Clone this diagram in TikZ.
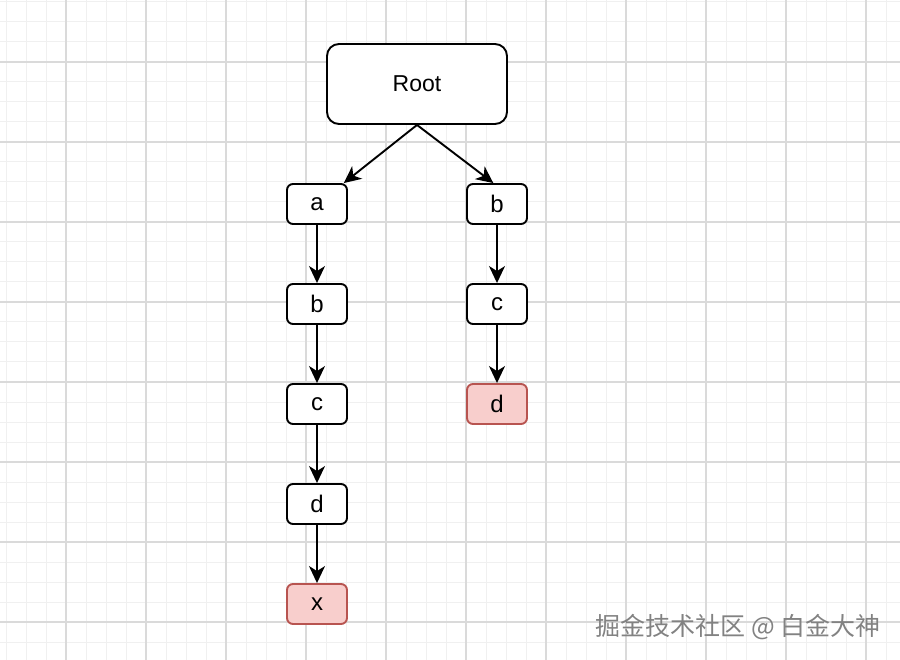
\documentclass[tikz,border=0pt]{standalone}
\usepackage{fontspec}
\setmainfont{Liberation Sans}
\newfontfamily\cjkfont{Noto Sans CJK SC}
\usetikzlibrary{arrows.meta}
\definecolor{majorgrid}{RGB}{218,218,218}
\definecolor{minorgrid}{RGB}{240,240,240}
\definecolor{redfill}{RGB}{248,206,204}
\definecolor{redline}{RGB}{184,84,80}
\definecolor{wmgray}{RGB}{130,130,130}
\tikzset{
  box/.style={draw=black, line width=1.9pt, fill=white, rounded corners=6pt,
    minimum width=60pt, minimum height=40pt, inner sep=0pt,
    font=\fontsize{24}{28}\selectfont},
  rootbox/.style={box, rounded corners=12pt, minimum width=180pt, minimum height=80pt,
    font=\fontsize{23}{27}\selectfont},
  hit/.style={fill=redfill, draw=redline},
  link/.style={line width=1.9pt, -{Stealth[length=17pt,width=16pt,inset=5pt]}},
  minorline/.style={draw=minorgrid, line width=1pt},
  majorline/.style={draw=majorgrid, line width=1.5pt},
  watermark/.style={text=wmgray, font=\cjkfont\fontsize{25}{29}\selectfont, inner sep=0pt, anchor=east}
}
\begin{document}
\begin{tikzpicture}[x=1pt,y=-1pt]
\useasboundingbox (0,0) rectangle (900,660);
\fill[white] (0,0) rectangle (900,660);
% minor grid
\foreach \gx in {6,26,...,886} \draw[minorline] (\gx,0) -- (\gx,660);
\foreach \gy in {2,22,...,642} \draw[minorline] (0,\gy) -- (900,\gy);
% major grid
\foreach \gx in {66,146,...,866} \draw[majorline] (\gx,0) -- (\gx,660);
\foreach \gy in {62,142,...,622} \draw[majorline] (0,\gy) -- (900,\gy);

\node[rootbox] (root) at (417,84) {Root};
\node[box] (a1) at (317,204) {a};
\node[box] (b1) at (317,304) {b};
\node[box] (c1) at (317,404) {c};
\node[box] (d1) at (317,504) {d};
\node[box,hit] (x1) at (317,604) {x};
\node[box] (b2) at (497,204) {b};
\node[box] (c2) at (497,304) {c};
\node[box,hit] (d2) at (497,404) {d};

\draw[link] (root.south) -- (a1.38);
\draw[link] (root.south) -- (b2.100);
\draw[link] (a1) -- (b1);
\draw[link] (b1) -- (c1);
\draw[link] (c1) -- (d1);
\draw[link] (d1) -- (x1);
\draw[link] (b2) -- (c2);
\draw[link] (c2) -- (d2);

\node[watermark] (wm) at (881,627) {掘金技术社区 @ 白金大神};
\end{tikzpicture}
\end{document}
